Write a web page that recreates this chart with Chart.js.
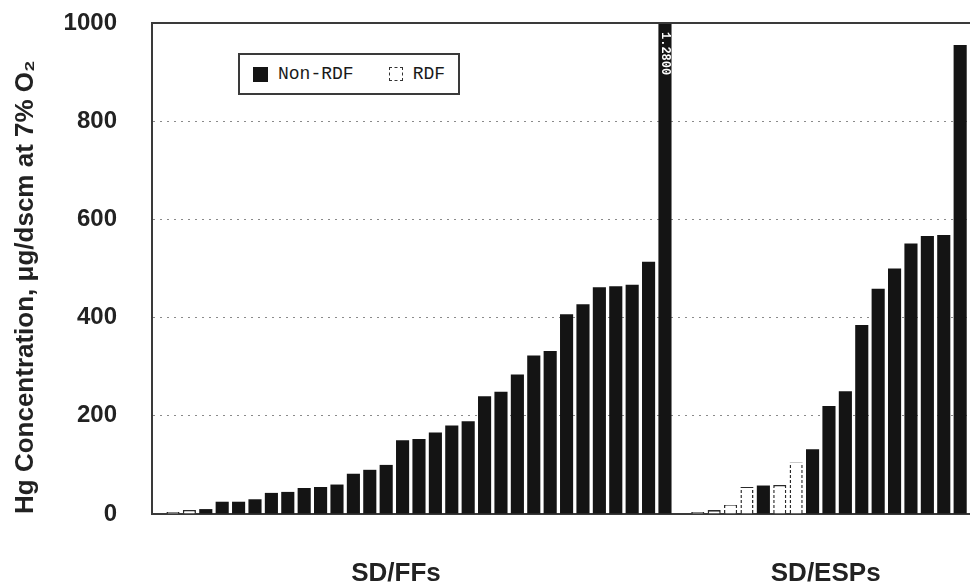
<!DOCTYPE html>
<html><head><meta charset="utf-8">
<script src="https://cdn.jsdelivr.net/npm/chart.js@4"></script>
<style>
html,body{margin:0;padding:0;background:#fff;overflow:hidden}
#wrap{position:relative;width:970px;height:586px}
#legend{position:absolute;left:238px;top:53px;height:42px;width:222px;border:2px solid #3a3a3a;box-sizing:border-box;display:flex;align-items:center;padding:0 0 0 13px;font-family:"Liberation Mono","DejaVu Sans Mono",monospace;font-size:18px;color:#1a1a1a;background:#fff;white-space:nowrap;overflow:hidden}
.item{display:flex;align-items:center;margin-right:35px;flex-shrink:0}
.sw{width:15px;height:15px;margin-right:10px;box-sizing:border-box;flex-shrink:0}
</style></head><body>
<div id="wrap"><canvas id="c" width="970" height="586"></canvas><div id="legend"></div></div>
<script>
// ---- data ----
const ffValues = [4, 9, 10, 25, 25, 30, 43, 45, 53, 55, 60, 82, 90, 100, 150, 153, 166, 180, 189, 240, 249, 284, 323, 332, 407, 427, 462, 464, 467, 514, 1280];
const ffFuel = ['RDF','RDF','Non-RDF','Non-RDF','Non-RDF','Non-RDF','Non-RDF','Non-RDF','Non-RDF','Non-RDF','Non-RDF','Non-RDF','Non-RDF','Non-RDF','Non-RDF','Non-RDF','Non-RDF','Non-RDF','Non-RDF','Non-RDF','Non-RDF','Non-RDF','Non-RDF','Non-RDF','Non-RDF','Non-RDF','Non-RDF','Non-RDF','Non-RDF','Non-RDF','Non-RDF'];
const espValues = [4, 8, 21, 55, 58, 60, 105, 132, 220, 250, 385, 459, 500, 551, 566, 568, 955];
const espFuel = ['RDF','RDF','RDF','RDF','Non-RDF','RDF','RDF','Non-RDF','Non-RDF','Non-RDF','Non-RDF','Non-RDF','Non-RDF','Non-RDF','Non-RDF','Non-RDF','Non-RDF'];
const groupNames = ['SD/FFs', 'SD/ESPs'];
const fuelTypes = ['Non-RDF', 'RDF'];
const yTicks = [0, 200, 400, 600, 800, 1000];
const yTitle = 'Hg Concentration, \u03bcg/dscm at 7% O\u2082';

// ---- layout (slot units on the x axis) ----
const xMin = -1.28, xMax = 48.6;
const groupLabelSlot = [13.6, 39.8];

const all = [
  ...ffValues.map((v, i) => ({x: i, y: v, f: ffFuel[i]})),
  ...espValues.map((v, i) => ({x: ffValues.length + 1 + i, y: v, f: espFuel[i]}))
];

const canvas = document.getElementById('c');
const ctx = canvas.getContext('2d');
const pc = document.createElement('canvas'); pc.width = 2; pc.height = 5;
const pctx = pc.getContext('2d'); pctx.fillStyle = '#2a2a2a'; pctx.fillRect(0, 0, 2, 3);
const dashPattern = ctx.createPattern(pc, 'repeat');

const styles = {
  'Non-RDF': {backgroundColor: '#141414', borderWidth: 0},
  'RDF': {backgroundColor: '#ffffff', borderColor: dashPattern, borderWidth: {left: 1.5, right: 1.5, top: 2, bottom: 0}}
};

const frame = {
  id: 'frame',
  afterDatasetsDraw(chart) {
    const a = chart.chartArea, c = chart.ctx;
    c.save(); c.strokeStyle = '#3a3a3a'; c.lineWidth = 2;
    c.beginPath(); c.moveTo(a.left - 1, a.top); c.lineTo(a.right, a.top); c.stroke();
    c.restore();
  }
};
const overflowLabel = {
  id: 'overflowLabel',
  afterDatasetsDraw(chart) {
    const ys = chart.scales.y, c = chart.ctx;
    chart.data.datasets.forEach((ds, di) => {
      chart.getDatasetMeta(di).data.forEach((bar, j) => {
        const v = ds.data[j].y;
        if (v > ys.max) {
          c.save(); c.translate(bar.x, chart.chartArea.top + 9); c.rotate(Math.PI / 2);
          c.fillStyle = '#fff'; c.font = 'bold 12px "Liberation Mono", monospace';
          c.textBaseline = 'middle'; c.textAlign = 'left';
          c.fillText((v / 1000).toFixed(4), 0, 0); c.restore();
        }
      });
    });
  }
};

const chart = new Chart(ctx, {
  type: 'bar',
  data: {
    datasets: fuelTypes.map(ft => Object.assign({
      label: ft,
      data: all.filter(p => p.f === ft).map(p => ({x: p.x, y: p.y})),
      grouped: false,
      categoryPercentage: 1,
      barPercentage: 0.8
    }, styles[ft]))
  },
  options: {
    responsive: false, animation: false, devicePixelRatio: 1,
    layout: {padding: {top: 23, right: 0, bottom: 0, left: 0}},
    plugins: {legend: {display: false}, tooltip: {enabled: false}},
    scales: {
      x: {
        type: 'linear', min: xMin, max: xMax, offset: false,
        afterBuildTicks: s => { s.ticks = groupLabelSlot.map(v => ({value: v})); },
        afterFit: s => { s.height = 72; s.paddingLeft = 0; s.paddingRight = 0; },
        ticks: {autoSkip: false, maxRotation: 0, callback: (v, i) => groupNames[i], color: '#222',
          font: {family: '"Liberation Sans", Arial, sans-serif', size: 26, weight: 'bold', lineHeight: 1}, padding: 47},
        grid: {display: false, drawTicks: false},
        border: {display: true, color: '#3a3a3a', width: 2}
      },
      y: {
        min: 0, max: 1000,
        afterBuildTicks: s => { s.ticks = yTicks.map(v => ({value: v})); },
        afterFit: s => { s.width = 152; s.paddingTop = 0; s.paddingBottom = 0; },
        grid: {color: c => (c.tick && (c.tick.value === 0 || c.tick.value === 1000)) ? 'rgba(0,0,0,0)' : '#8a8a8a', lineWidth: 1, drawTicks: false},
        border: {display: true, color: '#3a3a3a', width: 2, dash: [2, 5]},
        ticks: {callback: v => String(v), color: '#222', font: {family: '"Liberation Sans", Arial, sans-serif', size: 24, weight: 'bold'}, padding: 35},
        title: {display: true, text: yTitle, align: 'start', color: '#222',
          font: {family: '"Liberation Sans", Arial, sans-serif', size: 26, weight: 'bold', lineHeight: 1.2}, padding: {top: 10, bottom: 0}}
      }
    }
  },
  plugins: [frame, overflowLabel]
});

// HTML legend built from the datasets
const lg = document.getElementById('legend');
chart.data.datasets.forEach(ds => {
  const it = document.createElement('div'); it.className = 'item';
  const sw = document.createElement('span'); sw.className = 'sw';
  if (ds.label === 'RDF') { sw.style.border = '1.5px dashed #333'; sw.style.background = '#fff'; sw.style.width = '14px'; sw.style.height = '14px'; }
  else { sw.style.background = '#141414'; }
  const tx = document.createElement('span'); tx.textContent = ds.label;
  it.appendChild(sw); it.appendChild(tx); lg.appendChild(it);
});
</script>
</body></html>
